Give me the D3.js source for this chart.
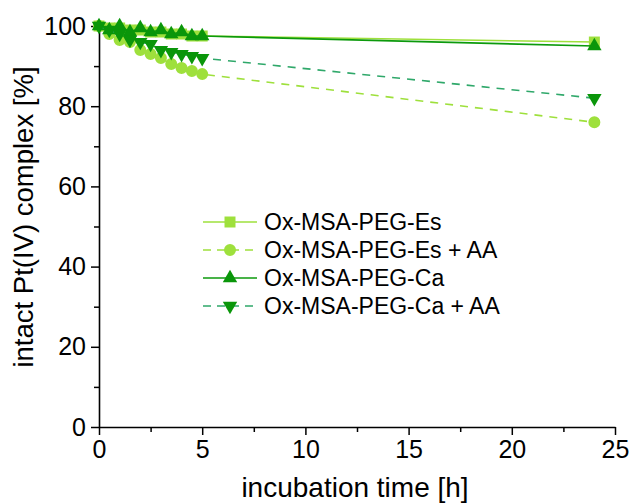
<!DOCTYPE html>
<html>
<head>
<meta charset="utf-8">
<script src="https://cdn.jsdelivr.net/npm/d3@7"></script>
<style>
  body { margin: 0; background: #fff; }
  text { font-family: "Liberation Sans", Arial, sans-serif; fill: #000; }
</style>
</head>
<body>
<div id="chart"></div>
<script>
// incubation time [h]
const times = [0, 0.5, 1, 1.5, 2, 2.5, 3, 3.5, 4, 4.5, 5, 24]
// intact Pt(IV) complex [%]
const esValues = [100, 99.5, 99.5, 99, 99, 98.5, 98.5, 98, 98, 97.5, 97.5, 96]
const esAAValues = [100, 98, 96.5, 96, 94, 93, 92, 90.5, 89.5, 88.8, 88, 76]
const caValues = [100, 99, 100, 98.5, 99.5, 98.5, 99, 98, 98.5, 97.5, 97.5, 95]
const caAAValues = [100, 99, 98, 96.5, 96, 95.5, 94, 93.5, 93, 92.5, 92, 82]

const seriesNames = ["Ox-MSA-PEG-Es", "Ox-MSA-PEG-Es + AA", "Ox-MSA-PEG-Ca", "Ox-MSA-PEG-Ca + AA"]
const xTicks = [0, 5, 10, 15, 20, 25]
const yTicks = [0, 20, 40, 60, 80, 100]

const series = [
  { name: seriesNames[0], values: esValues, line: "#9ee03c", marker: "#9ee03c", dash: null, symbol: "square" },
  { name: seriesNames[1], values: esAAValues, line: "#9ee03c", marker: "#9ee03c", dash: "8,7", symbol: "circle" },
  { name: seriesNames[2], values: caValues, line: "#0c9a0c", marker: "#0a960a", dash: null, symbol: "up" },
  { name: seriesNames[3], values: caAAValues, line: "#2fa86a", marker: "#0a960a", dash: "8,7", symbol: "down" },
]

const width = 633, height = 504
const margin = { top: 26, right: 18, bottom: 77, left: 99 }
const w = width - margin.left - margin.right
const h = height - margin.top - margin.bottom

const svg = d3.select("#chart")
  .append("svg")
  .attr("width", width)
  .attr("height", height)

const g = svg.append("g")
  .attr("transform", `translate(${margin.left},${margin.top})`)

const x = d3.scaleLinear().domain([0, 25]).range([0, w])
const y = d3.scaleLinear().domain([0, 100]).range([h, 0])

// minor ticks
g.append("g")
  .attr("transform", `translate(0,${h})`)
  .call(d3.axisBottom(x).tickValues(d3.range(2.5, 25, 5)).tickSize(5).tickFormat(""))
  .call(a => a.select(".domain").remove())
  .selectAll("line").attr("stroke-width", 1.5)
g.append("g")
  .call(d3.axisLeft(y).tickValues(d3.range(10, 100, 20)).tickSize(5).tickFormat(""))
  .call(a => a.select(".domain").remove())
  .selectAll("line").attr("stroke-width", 1.5)

// X axis
const xAxis = g.append("g")
  .attr("transform", `translate(0,${h})`)
  .call(d3.axisBottom(x).tickValues(xTicks).tickSize(8).tickSizeOuter(0).tickPadding(5))
xAxis.select(".domain").attr("stroke-width", 1.6)
xAxis.selectAll("line").attr("stroke-width", 1.5)
xAxis.selectAll("text").style("font-size", "25px").attr("fill", "#000")

// Y axis
const yAxis = g.append("g")
  .call(d3.axisLeft(y).tickValues(yTicks).tickSize(8).tickSizeOuter(0).tickPadding(5))
yAxis.select(".domain").attr("stroke-width", 1.6)
yAxis.selectAll("line").attr("stroke-width", 1.5)
yAxis.selectAll("text").style("font-size", "25px").attr("fill", "#000")

// axis titles
svg.append("text")
  .attr("x", 355)
  .attr("y", 497)
  .attr("text-anchor", "middle")
  .style("font-size", "28px")
  .text("incubation time [h]")

svg.append("text")
  .attr("transform", "translate(33,217) rotate(-90)")
  .attr("text-anchor", "middle")
  .style("font-size", "27.5px")
  .text("intact Pt(IV) complex [%]")

const symbolOf = (s) => {
  if (s === "square") return d3.symbol(d3.symbolSquare, 121)
  if (s === "circle") return d3.symbol(d3.symbolCircle, 113)
  return d3.symbol(d3.symbolTriangle, 90)
}

const line = d3.line()
  .x(d => x(d.t))
  .y(d => y(d.v))

series.forEach(s => {
  const pts = times.map((t, i) => ({ t, v: s.values[i] }))
  g.append("path")
    .datum(pts)
    .attr("fill", "none")
    .attr("stroke", s.line)
    .attr("stroke-width", 1.6)
    .attr("stroke-dasharray", s.dash)
    .attr("d", line)

  g.selectAll(null)
    .data(pts)
    .join("path")
    .attr("d", symbolOf(s.symbol))
    .attr("transform", d => `translate(${x(d.t)},${y(d.v)})${s.symbol === "down" ? " rotate(180)" : ""}`)
    .attr("fill", s.marker)
})

// legend
const legend = svg.append("g")
  .attr("transform", "translate(203,222)")

series.forEach((s, i) => {
  const row = legend.append("g").attr("transform", `translate(0,${i * 28})`)
  row.append("line")
    .attr("x1", 0).attr("x2", 54)
    .attr("y1", 0).attr("y2", 0)
    .attr("stroke", s.line)
    .attr("stroke-width", 1.6)
    .attr("stroke-dasharray", s.dash ? "8,6" : null)
  row.append("path")
    .attr("d", symbolOf(s.symbol))
    .attr("transform", `translate(27,0)${s.symbol === "down" ? " rotate(180)" : ""}`)
    .attr("fill", s.marker)
  row.append("text")
    .attr("x", 61)
    .attr("y", 8)
    .style("font-size", "23px")
    .text(s.name)
})
</script>
</body>
</html>
